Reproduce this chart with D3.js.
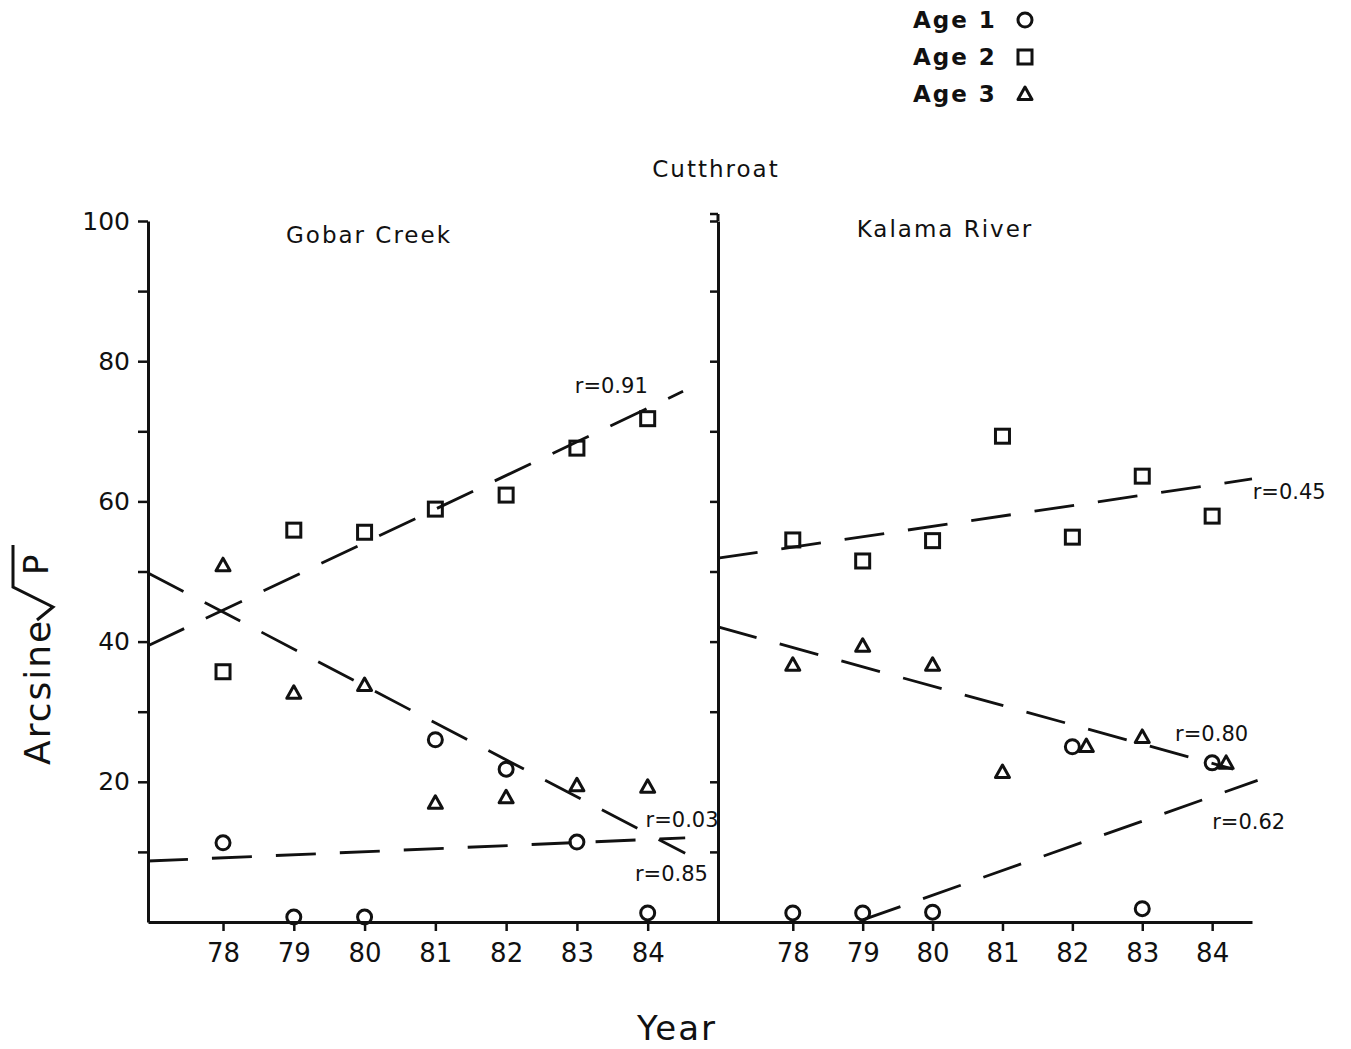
<!DOCTYPE html>
<html>
<head>
<meta charset="utf-8">
<script src="https://cdn.jsdelivr.net/npm/d3@7"></script>
<style>
  body { margin: 0; background: #fff; }
  svg text { font-family: "DejaVu Sans", sans-serif; fill: #111; }
</style>
</head>
<body>
<div id="chart"></div>
<script>
// years sampled in both streams
var years = [78, 79, 80, 81, 82, 83, 84];

// Gobar Creek, arcsine sqrt(P) by age class
var gobarAge1 = [11.3, 0.7, 0.7, 26.0, 21.8, 11.4, 1.3];
var gobarAge2 = [35.7, 55.9, 55.6, 58.9, 60.9, 67.6, 71.8];
var gobarAge3 = [50.9, 32.7, 33.8, 17.0, 17.8, 19.5, 19.3];

// Kalama River (no age 1 point for 81)
var kalamaAge1 = [1.3, 1.3, 1.4, null, 25.0, 1.9, 22.7];
var kalamaAge2 = [54.5, 51.5, 54.4, 69.3, 54.9, 63.6, 57.9];
var kalamaAge3 = [36.7, 39.4, 36.7, 21.4, 25.1, 26.4, 22.7];

// fitted lines as drawn: [year, value] at each end
var gobarFitAge1 = [[76.94, 8.7], [84.53, 12.0]];
var gobarFitAge2 = [[76.94, 39.4], [84.5, 75.7]];
var gobarFitAge3 = [[76.94, 49.8], [84.53, 9.8]];
var kalamaFitAge1 = [[79.0, 0.3], [84.65, 20.2]];
var kalamaFitAge2 = [[76.93, 51.9], [84.57, 63.2]];
var kalamaFitAge3 = [[76.93, 42.1], [84.3, 21.8]];

// correlation labels: [year, value, text] (left edge, baseline)
var gobarLabels = [[82.97, 75.5, "r=0.91"], [83.97, 13.5, "r=0.03"], [83.82, 5.85, "r=0.85"]];
var kalamaLabels = [[84.58, 60.3, "r=0.45"], [83.47, 25.8, "r=0.80"], [84.0, 13.3, "r=0.62"]];

var yTicks = [10, 20, 30, 40, 50, 60, 70, 80, 90, 100];
var ageNames = ["Age 1", "Age 2", "Age 3"];

var width = 1351, height = 1049;

var svg = d3.select("#chart").append("svg")
    .attr("width", width)
    .attr("height", height);

var yScale = d3.scaleLinear().domain([0, 100]).range([922, 221]);

var xLeft = d3.scaleLinear().domain([76.94, 85.05]).range([148, 722]);
var xRight = d3.scaleLinear().domain([76.93, 84.57]).range([718, 1252]);

// markers
function drawMarker(g, kind, x, y) {
    if (kind == 0) {
        g.append("circle").attr("cx", x).attr("cy", y).attr("r", 7)
            .attr("fill", "none").attr("stroke", "#111").attr("stroke-width", 3);
    } else if (kind == 1) {
        g.append("rect").attr("x", x - 7).attr("y", y - 7)
            .attr("width", 14).attr("height", 14)
            .attr("fill", "none").attr("stroke", "#111").attr("stroke-width", 3);
    } else {
        g.append("path")
            .attr("d", "M" + x + "," + (y - 7) + "L" + (x + 7) + "," + (y + 5.5) + "L" + (x - 7) + "," + (y + 5.5) + "Z")
            .attr("fill", "none").attr("stroke", "#111").attr("stroke-width", 3)
            .attr("stroke-linejoin", "round");
    }
}

function drawPanel(xScale, series, fits, labels, showYLabels, yTickSize) {
    var g = svg.append("g");

    // y axis
    var yaxis = d3.axisLeft(yScale)
        .tickValues(yTicks)
        .tickSize(yTickSize)
        .tickSizeOuter(0)
        .tickPadding(8)
        .tickFormat(function(d) { return (showYLabels && d % 20 == 0) ? d : ""; });

    var ya = g.append("g")
        .attr("transform", "translate(" + xScale.range()[0] + ",0)")
        .call(yaxis);
    ya.select(".domain").attr("stroke", "#111").attr("stroke-width", 3);
    ya.selectAll(".tick line").attr("stroke", "#111").attr("stroke-width", 2.5);
    ya.selectAll("text").style("font-size", "25px").attr("fill", "#111");

    // x axis
    var xaxis = d3.axisBottom(xScale)
        .tickValues(years)
        .tickSize(9)
        .tickSizeOuter(0)
        .tickPadding(13)
        .tickFormat(d3.format("d"));

    var xa = g.append("g")
        .attr("transform", "translate(0," + yScale(0) + ")")
        .call(xaxis);
    xa.select(".domain").attr("stroke", "#111").attr("stroke-width", 3);
    xa.selectAll(".tick line").attr("stroke", "#111").attr("stroke-width", 2.5);
    xa.selectAll("text").style("font-size", "26px").attr("fill", "#111");

    // fitted lines
    var line = d3.line()
        .x(function(d) { return xScale(d[0]); })
        .y(function(d) { return yScale(d[1]); });

    fits.forEach(function(f) {
        g.append("path")
            .attr("d", line(f))
            .attr("fill", "none")
            .attr("stroke", "#111")
            .attr("stroke-width", 2.8)
            .attr("stroke-dasharray", "40,24");
    });

    // points; a triangle sitting on a circle is nudged right
    series.forEach(function(vals, k) {
        vals.forEach(function(v, i) {
            if (v == null) return;
            var yr = years[i];
            if (k == 2 && series[0][i] != null && Math.abs(series[0][i] - v) < 2) yr += 0.2;
            drawMarker(g, k, xScale(yr), yScale(v));
        });
    });

    // r labels
    labels.forEach(function(l) {
        g.append("text")
            .attr("x", xScale(l[0]))
            .attr("y", yScale(l[1]))
            .style("font-size", "21px")
            .text(l[2]);
    });

    return g;
}

drawPanel(xLeft, [gobarAge1, gobarAge2, gobarAge3],
          [gobarFitAge1, gobarFitAge2, gobarFitAge3], gobarLabels, true, 10);
drawPanel(xRight, [kalamaAge1, kalamaAge2, kalamaAge3],
          [kalamaFitAge1, kalamaFitAge2, kalamaFitAge3], kalamaLabels, false, 8);

// top of the right axis
svg.append("line")
    .attr("x1", xRight.range()[0]).attr("x2", xRight.range()[0])
    .attr("y1", yScale(100) - 7).attr("y2", yScale(100))
    .attr("stroke", "#111").attr("stroke-width", 3);
svg.append("line")
    .attr("x1", xRight.range()[0] - 8).attr("x2", xRight.range()[0])
    .attr("y1", yScale(100) - 7).attr("y2", yScale(100) - 7)
    .attr("stroke", "#111").attr("stroke-width", 2.5);

// panel titles
svg.append("text").attr("x", 369).attr("y", 243).attr("text-anchor", "middle")
    .style("font-size", "23px").style("letter-spacing", "2px").text("Gobar Creek");
svg.append("text").attr("x", 945).attr("y", 237).attr("text-anchor", "middle")
    .style("font-size", "23px").style("letter-spacing", "2px").text("Kalama River");

// chart title
svg.append("text").attr("x", 716).attr("y", 177).attr("text-anchor", "middle")
    .style("font-size", "23px").style("letter-spacing", "2px").text("Cutthroat");

// x title
svg.append("text").attr("x", 677).attr("y", 1040).attr("text-anchor", "middle")
    .style("font-size", "34px").style("letter-spacing", "2px").text("Year");

// y title: Arcsine with a hand drawn radical over P
var yt = svg.append("g").attr("transform", "translate(50,765) rotate(-90)");
yt.append("text").attr("x", 0).attr("y", 0)
    .style("font-size", "36px").style("letter-spacing", "2px").text("Arcsine");
yt.append("path")
    .attr("d", "M145,-13L158,3L178,-37L220,-37")
    .attr("fill", "none").attr("stroke", "#111").attr("stroke-width", 3);
yt.append("text").attr("x", 190).attr("y", -2)
    .style("font-size", "34px").text("P");

// legend
var legend = svg.append("g");
ageNames.forEach(function(name, k) {
    var by = 28 + k * 37;
    legend.append("text").attr("x", 913).attr("y", by)
        .style("font-size", "23px").style("font-weight", "bold")
        .style("letter-spacing", "2px").text(name);
    drawMarker(legend, k, 1025, by - 8);
});
</script>
</body>
</html>
